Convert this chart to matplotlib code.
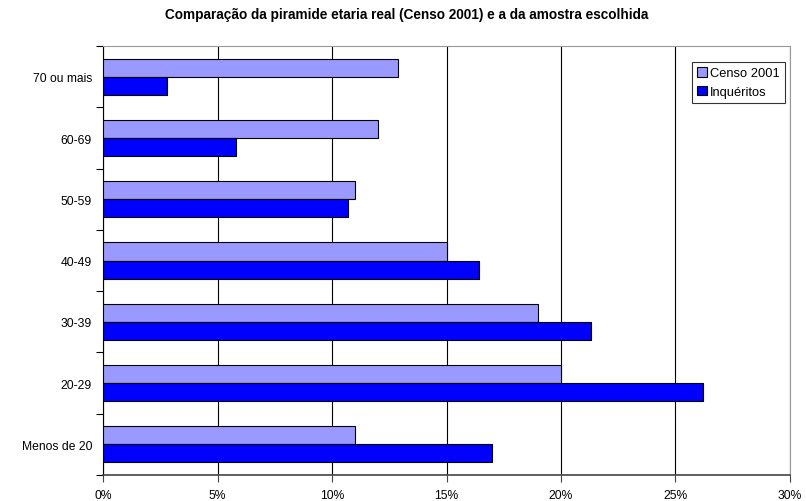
import matplotlib
matplotlib.use("Agg")
import matplotlib.pyplot as plt
import numpy as np
from matplotlib.ticker import FuncFormatter, FixedLocator

categories = ["Menos de 20", "20-29", "30-39", "40-49", "50-59", "60-69", "70 ou mais"]
censo = [11.0, 20.0, 19.0, 15.0, 11.0, 12.0, 12.9]
inqueritos = [17.0, 26.2, 21.3, 16.4, 10.7, 5.8, 2.8]
xticks = [0, 5, 10, 15, 20, 25, 30]

plt.rcParams['font.family'] = ['Liberation Sans', 'DejaVu Sans']

fig = plt.figure(figsize=(8.06, 5.02), dpi=100)
ax = fig.add_axes([0.128, 0.052, 0.852, 0.854])

y = np.arange(len(categories))
h = 0.295
ax.barh(y + h / 2, censo, height=h, color="#9999FF", edgecolor="black", linewidth=0.8, label="Censo 2001", zorder=3)
ax.barh(y - h / 2, inqueritos, height=h, color="#0000FF", edgecolor="black", linewidth=0.8, label="Inquéritos", zorder=3)

ax.set_xlim(0, 30)
ax.set_ylim(-0.5, len(categories) - 0.5)
ax.set_xticks(xticks)
ax.xaxis.set_major_formatter(FuncFormatter(lambda v, p: f"{v:.0f}%"))
ax.set_yticks(y)
ax.set_yticklabels(categories)
ax.yaxis.set_minor_locator(FixedLocator(np.arange(-0.5, len(categories), 1.0)))
ax.tick_params(axis='y', which='major', length=0, labelsize=8.7, pad=8)
ax.tick_params(axis='y', which='minor', length=5, width=0.8, color='black')
ax.tick_params(axis='x', which='major', length=5, width=0.8, labelsize=8.7, pad=5, color='#444444')

ax.grid(axis='x', color='black', linewidth=0.8, zorder=0)
for s in ['top', 'right']:
    ax.spines[s].set_color('#999999')
    ax.spines[s].set_linewidth(0.8)
ax.spines['left'].set_color('black')
ax.spines['left'].set_linewidth(0.8)
ax.spines['bottom'].set_color('#444444')
ax.spines['bottom'].set_linewidth(1.2)

fig.suptitle("Comparação da piramide etaria real (Censo 2001) e a da amostra escolhida",
             fontsize=9.8, fontweight='bold', x=0.504, y=0.985)

leg = ax.legend(loc='upper right', bbox_to_anchor=(0.993, 0.963), fontsize=9.3, frameon=True,
                fancybox=False, edgecolor='black', handlelength=0.75, handleheight=0.75,
                handletextpad=0.25, borderpad=0.4, labelspacing=0.5, borderaxespad=0)
leg.get_frame().set_linewidth(0.8)

fig.savefig("out.png", dpi=100)
